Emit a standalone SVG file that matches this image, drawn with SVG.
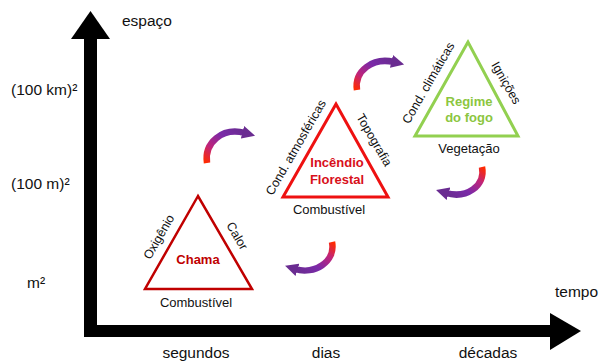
<svg xmlns="http://www.w3.org/2000/svg" width="601" height="363" viewBox="0 0 601 363">
<defs>
<style>
.ax{font-family:"Liberation Sans",Arial,sans-serif;font-size:15.5px;fill:#111}
.lb{font-family:"Liberation Sans",Arial,sans-serif;font-size:13px;fill:#111;text-anchor:middle}
.sd{font-family:"Liberation Sans",Arial,sans-serif;font-size:12.5px;fill:#111;text-anchor:middle}
.tt{font-family:"Liberation Sans",Arial,sans-serif;font-size:13px;font-weight:bold;text-anchor:middle}
.tri{fill:none;stroke-linejoin:miter}
.arc{fill:none;stroke-width:6.5;stroke-linecap:butt}
</style>
<linearGradient id="gUp" x1="0" y1="1" x2="1" y2="0">
<stop offset="0" stop-color="#ff2a00"/>
<stop offset="0.3" stop-color="#c0247a"/>
<stop offset="0.65" stop-color="#7a2aa8"/>
<stop offset="1" stop-color="#6a2c91"/>
</linearGradient>
<linearGradient id="gDown" x1="1" y1="0" x2="0" y2="1">
<stop offset="0" stop-color="#ff2a00"/>
<stop offset="0.3" stop-color="#c0247a"/>
<stop offset="0.65" stop-color="#7a2aa8"/>
<stop offset="1" stop-color="#6a2c91"/>
</linearGradient>
<marker id="head" viewBox="0 0 10 10" refX="2" refY="5" markerWidth="2" markerHeight="2" orient="auto">
<path d="M0,0 L10,5 L0,10 Z" fill="#6a2c91"/>
</marker>
</defs>

<g id="axes">
<rect x="84" y="38" width="13" height="299" fill="#000"/>
<polygon points="71,39 90.5,11 110,39" fill="#000"/>
<rect x="84" y="325" width="468" height="12" fill="#000"/>
<polygon points="550,313 581,331 550,350" fill="#000"/>
</g>

<g id="axis-labels">
<text class="ax" x="122" y="26">espaço</text>
<text class="ax" x="11" y="95">(100 km)²</text>
<text class="ax" x="11" y="189">(100 m)²</text>
<text class="ax" x="27" y="288">m²</text>
<text class="ax" x="555" y="297">tempo</text>
<text class="ax" x="196" y="358" text-anchor="middle">segundos</text>
<text class="ax" x="326" y="358" text-anchor="middle">dias</text>
<text class="ax" x="488" y="358" text-anchor="middle">décadas</text>
</g>

<g id="chama">
<polygon class="tri" points="198,196 145,289 252,289" stroke="#c00000" stroke-width="2.5"/>
<text class="tt" x="198" y="264" fill="#c00000">Chama</text>
<text class="sd" transform="translate(159,237) rotate(-60)" y="4">Oxigênio</text>
<text class="sd" transform="translate(237,236) rotate(60)" y="4">Calor</text>
<text class="lb" x="196" y="307">Combustível</text>
</g>

<g id="incendio">
<polygon class="tri" points="336,104 283,197 388,197" stroke="#ee1111" stroke-width="3"/>
<text class="tt" x="337" y="167" fill="#d8101a">Incêndio</text>
<text class="tt" x="337" y="184" fill="#d8101a">Florestal</text>
<text class="sd" transform="translate(296,147.5) rotate(-60)" y="4">Cond. atmosféricas</text>
<text class="sd" transform="translate(374,140) rotate(60)" y="4">Topografia</text>
<text class="lb" x="329" y="214">Combustível</text>
</g>

<g id="regime">
<polygon class="tri" points="468,42 415,136 518,136" stroke="#92d050" stroke-width="3"/>
<text class="tt" x="469" y="106" fill="#8cc63f">Regime</text>
<text class="tt" x="469" y="122" fill="#8cc63f">do fogo</text>
<text class="sd" transform="translate(428.5,83) rotate(-60)" y="4">Cond. climáticas</text>
<text class="sd" transform="translate(506,83) rotate(60)" y="4">Ignições</text>
<text class="lb" x="469" y="153">Vegetação</text>
</g>

<g id="connectors">
<path class="arc" d="M207,163 C204,143 222,127 245,133" stroke="url(#gUp)" marker-end="url(#head)"/>
<path class="arc" d="M357,90 C354,71 373,57 394,62" stroke="url(#gUp)" marker-end="url(#head)"/>
<path class="arc" d="M482,167 C486,186 466,199 446,193" stroke="url(#gDown)" marker-end="url(#head)"/>
<path class="arc" d="M332,242 C336,262 314,275 295,269" stroke="url(#gDown)" marker-end="url(#head)"/>
</g>
</svg>
